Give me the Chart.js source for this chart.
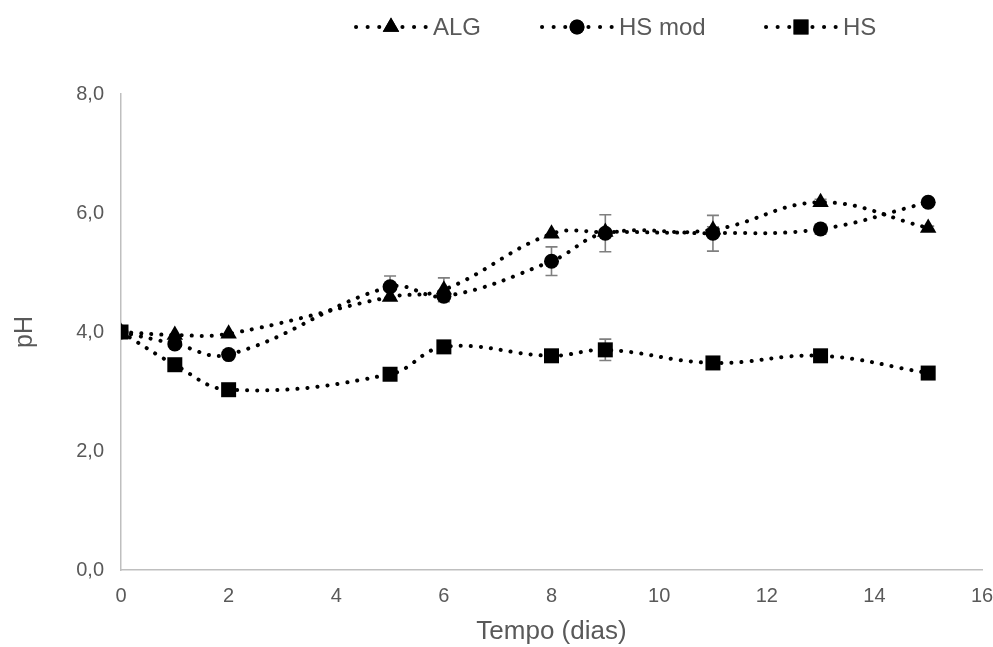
<!DOCTYPE html>
<html>
<head>
<meta charset="utf-8">
<script src="https://cdn.jsdelivr.net/npm/chart.js@4/dist/chart.umd.min.js"></script>
<style>
  html, body { margin: 0; padding: 0; background: #fff; }
  #wrap { width: 993px; height: 647px; }
</style>
</head>
<body>
<div id="wrap"><canvas id="ph-chart"></canvas></div>
<script>
// days of sampling
const days = [0, 1, 2, 5, 6, 8, 9, 11, 13, 15];

// pH per series
const algPH   = [4.00, 3.95, 3.97, 4.59, 4.71, 5.65, 5.68, 5.72, 6.18, 5.75];
const hsModPH = [4.00, 3.80, 3.62, 4.76, 4.60, 5.19, 5.66, 5.66, 5.73, 6.18];
const hsPH    = [4.00, 3.45, 3.03, 3.29, 3.75, 3.60, 3.70, 3.48, 3.60, 3.31];

// standard deviations (error bars)
const algErr   = [0, 0, 0, 0, 0.20, 0, 0, 0.05, 0.05, 0.03];
const hsModErr = [0, 0, 0, 0.18, 0, 0.24, 0.31, 0.30, 0.08, 0];
const hsErr    = [0, 0, 0, 0, 0, 0, 0.18, 0, 0, 0.03];

const yTicks = [0, 2, 4, 6, 8];
const xTicks = [0, 2, 4, 6, 8, 10, 12, 14, 16];

const toPts = vals => days.map((d, i) => ({ x: d, y: vals[i] }));

const FONT = '"Liberation Sans", Arial, sans-serif';
const GREY_TXT = '#595959';

function series(label, vals, errs, style, radius) {
  return {
    label: label,
    data: toPts(vals),
    errors: errs,
    borderColor: '#000',
    backgroundColor: '#000',
    borderWidth: 4,
    borderDash: [0.1, 10],
    borderCapStyle: 'round',
    tension: 0.4,
    pointStyle: style,
    pointRadius: radius,
    pointBorderWidth: 0,
    pointBackgroundColor: '#000'
  };
}

const errorBars = {
  id: 'errorBars',
  beforeDatasetsDraw(chart) {
    const ctx = chart.ctx;
    const xs = chart.scales.x, ys = chart.scales.y;
    ctx.save();
    ctx.strokeStyle = '#7f7f7f';
    ctx.lineWidth = 1.6;
    chart.data.datasets.forEach(ds => {
      ds.data.forEach((p, i) => {
        const e = ds.errors[i];
        if (!e) return;
        const px = xs.getPixelForValue(p.x);
        const top = ys.getPixelForValue(p.y + e);
        const bot = ys.getPixelForValue(p.y - e);
        ctx.beginPath();
        ctx.moveTo(px, top); ctx.lineTo(px, bot);
        ctx.moveTo(px - 6, top); ctx.lineTo(px + 6, top);
        ctx.moveTo(px - 6, bot); ctx.lineTo(px + 6, bot);
        ctx.stroke();
      });
    });
    ctx.restore();
  }
};

// legend: dotted line sample with the marker, like the spreadsheet one
const lineLegend = {
  id: 'lineLegend',
  afterDraw(chart) {
    const ctx = chart.ctx;
    const starts = [356, 542, 766];
    const cy = 27;
    ctx.save();
    chart.data.datasets.forEach((ds, i) => {
      const x0 = starts[i];
      ctx.strokeStyle = '#000';
      ctx.lineWidth = 4;
      ctx.lineCap = 'round';
      ctx.setLineDash([0.1, 11.5]);
      ctx.beginPath();
      ctx.moveTo(x0, cy);
      ctx.lineTo(x0 + 70, cy);
      ctx.stroke();
      ctx.setLineDash([]);
      Chart.helpers.drawPoint(ctx, {
        pointStyle: ds.pointStyle, radius: ds.pointRadius, borderWidth: 0
      }, x0 + 35, cy);
      ctx.fillStyle = '#000';
      ctx.fill();
      ctx.fillStyle = GREY_TXT;
      ctx.font = '24px ' + FONT;
      ctx.textBaseline = 'middle';
      ctx.textAlign = 'left';
      ctx.fillText(ds.label, x0 + 77, cy + 1);
    });
    ctx.restore();
  }
};

new Chart(document.getElementById('ph-chart'), {
  type: 'line',
  data: {
    datasets: [
      series('ALG', algPH, algErr, 'triangle', 9.5),
      series('HS mod', hsModPH, hsModErr, 'circle', 7.5),
      series('HS', hsPH, hsErr, 'rect', 10.6)
    ]
  },
  plugins: [errorBars, lineLegend],
  options: {
    responsive: true,
    maintainAspectRatio: false,
    animation: false,
    layout: { padding: { top: 94, right: 1, left: 0, bottom: 0 } },
    plugins: {
      legend: { display: false },
      tooltip: { enabled: false }
    },
    scales: {
      x: {
        type: 'linear',
        min: 0,
        max: 16,
        afterBuildTicks: s => { s.ticks = xTicks.map(v => ({ value: v })); },
        grid: { display: false, drawTicks: false },
        border: { display: true, color: '#bfbfbf', width: 1.5 },
        ticks: { color: GREY_TXT, font: { family: FONT, size: 20 }, padding: 14, maxRotation: 0 },
        title: { display: true, text: 'Tempo (dias)', color: GREY_TXT, font: { family: FONT, size: 26 }, padding: { top: 4, bottom: 0 } },
        afterFit: s => { s.height = 77; s.paddingLeft = 0; s.paddingRight = 11; }
      },
      y: {
        min: 0,
        max: 8,
        afterBuildTicks: s => { s.ticks = yTicks.map(v => ({ value: v })); },
        grid: { display: false, drawTicks: false },
        border: { display: true, color: '#bfbfbf', width: 1.5 },
        ticks: {
          color: GREY_TXT,
          font: { family: FONT, size: 20 },
          padding: 17,
          callback: v => v.toFixed(1).replace('.', ',')
        },
        title: { display: true, text: 'pH', color: GREY_TXT, font: { family: FONT, size: 25 }, padding: { top: 10, bottom: 0 } },
        afterFit: s => { s.width = 121; }
      }
    }
  }
});
</script>
</body>
</html>
